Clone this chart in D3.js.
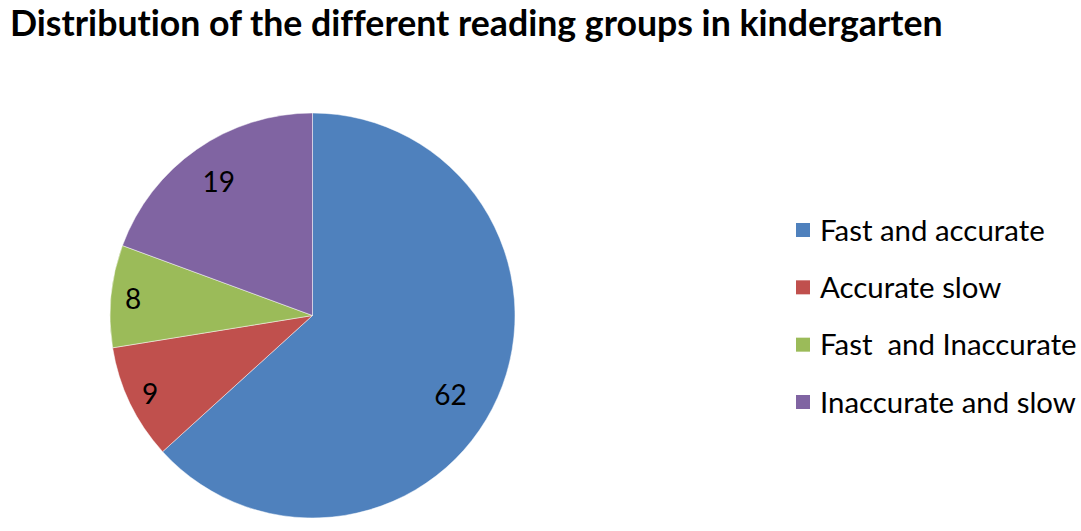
<!DOCTYPE html>
<html>
<head>
<meta charset="utf-8">
<title>Distribution of the different reading groups in kindergarten</title>
<script src="https://cdn.jsdelivr.net/npm/d3@7"></script>
<style>
  body { margin: 0; background: #fff; }
  text { font-family: Lato, "Open Sans", sans-serif; font-variant-ligatures: none; }
</style>
</head>
<body>
<script>
// Data
var groups = ["Fast and accurate", "Accurate slow", "Fast  and Inaccurate", "Inaccurate and slow"];
var counts = [62, 9, 8, 19];
var colours = ["#4F81BD", "#C0504D", "#9BBB59", "#8064A2"];
var chartTitle = "Distribution of the different reading groups in kindergarten";

drawChart();

function drawChart(){

  var w = 1081;
  var h = 531;

  var svg = d3.select("body")
              .append("svg")
              .attr("width", w)
              .attr("height", h);

  // Title, sized to span the same width as the original
  var title = svg.append("text")
      .attr("x", 10)
      .attr("font-weight", "bold")
      .attr("font-size", 32)
      .attr("fill", "#000")
      .style("white-space", "pre")
      .text(chartTitle);
  fitWidth(title, 32, 933);
  // keep the whole text box inside the top edge
  var box = title.node().getBBox();
  title.attr("y", Math.max(30, -box.y + 1));

  // Pie
  var cx = 312.5, cy = 315.5, radius = 202.5;

  var pie = d3.pie().sort(null).value(d => d);
  var arcs = pie(counts);

  var arc = d3.arc().innerRadius(0).outerRadius(radius);

  var graph = svg.append("g")
      .attr("transform", `translate(${cx}, ${cy})`);

  var colour = d3.scaleOrdinal().domain(groups).range(colours);

  graph.selectAll("path")
      .data(arcs)
      .enter()
      .append("path")
      .attr("d", arc)
      .attr("fill", (d, i) => colour(groups[i]))
      .attr("stroke", "#ffffff")
      .attr("stroke-opacity", 0.6)
      .attr("stroke-width", 0.8);

  // Labels inside slices, small slices pushed closer to the rim
  var bigLabel = d3.arc().innerRadius(radius * 0.81).outerRadius(radius * 0.81);
  var smallLabel = d3.arc().innerRadius(radius * 0.89).outerRadius(radius * 0.89);

  graph.selectAll("text.value")
      .data(arcs)
      .enter()
      .append("text")
      .attr("class", "value")
      .attr("transform", d => {
        var c = (d.value < 10 ? smallLabel : bigLabel).centroid(d);
        // the big slice label sits a little lower, as in the original
        var shift = d.value > 50 ? 12 : 0;
        return `translate(${c[0] - shift}, ${c[1] + shift})`;
      })
      .attr("text-anchor", "middle")
      .attr("dy", "0.38em")
      .attr("font-size", 28)
      .attr("fill", "#000")
      .text(d => d.value);

  // Legend
  var legend = svg.append("g")
      .attr("transform", "translate(796, 230)");

  var rowY = d3.scalePoint()
      .domain(groups)
      .range([0, 172]);

  var rows = legend.selectAll("g")
      .data(groups)
      .enter()
      .append("g")
      .attr("transform", d => `translate(0, ${rowY(d)})`);

  rows.append("rect")
      .attr("x", 0)
      .attr("y", -7)
      .attr("width", 14)
      .attr("height", 14)
      .attr("fill", d => colour(d));

  var labels = rows.append("text")
      .attr("x", 24)
      .attr("dy", "0.36em")
      .attr("font-size", 23)
      .attr("fill", "#000")
      .style("white-space", "pre")
      .text(d => d);

  // scale legend font so the longest line matches the original width
  var widest = labels.filter(d => d === "Inaccurate and slow");
  var size = fitWidth(widest, 23, 256);
  labels.attr("font-size", size);

};

function fitWidth(sel, size, target){
  var len = sel.node().getComputedTextLength();
  var s = size * target / len;
  sel.attr("font-size", s);
  return s;
};
</script>
</body>
</html>
